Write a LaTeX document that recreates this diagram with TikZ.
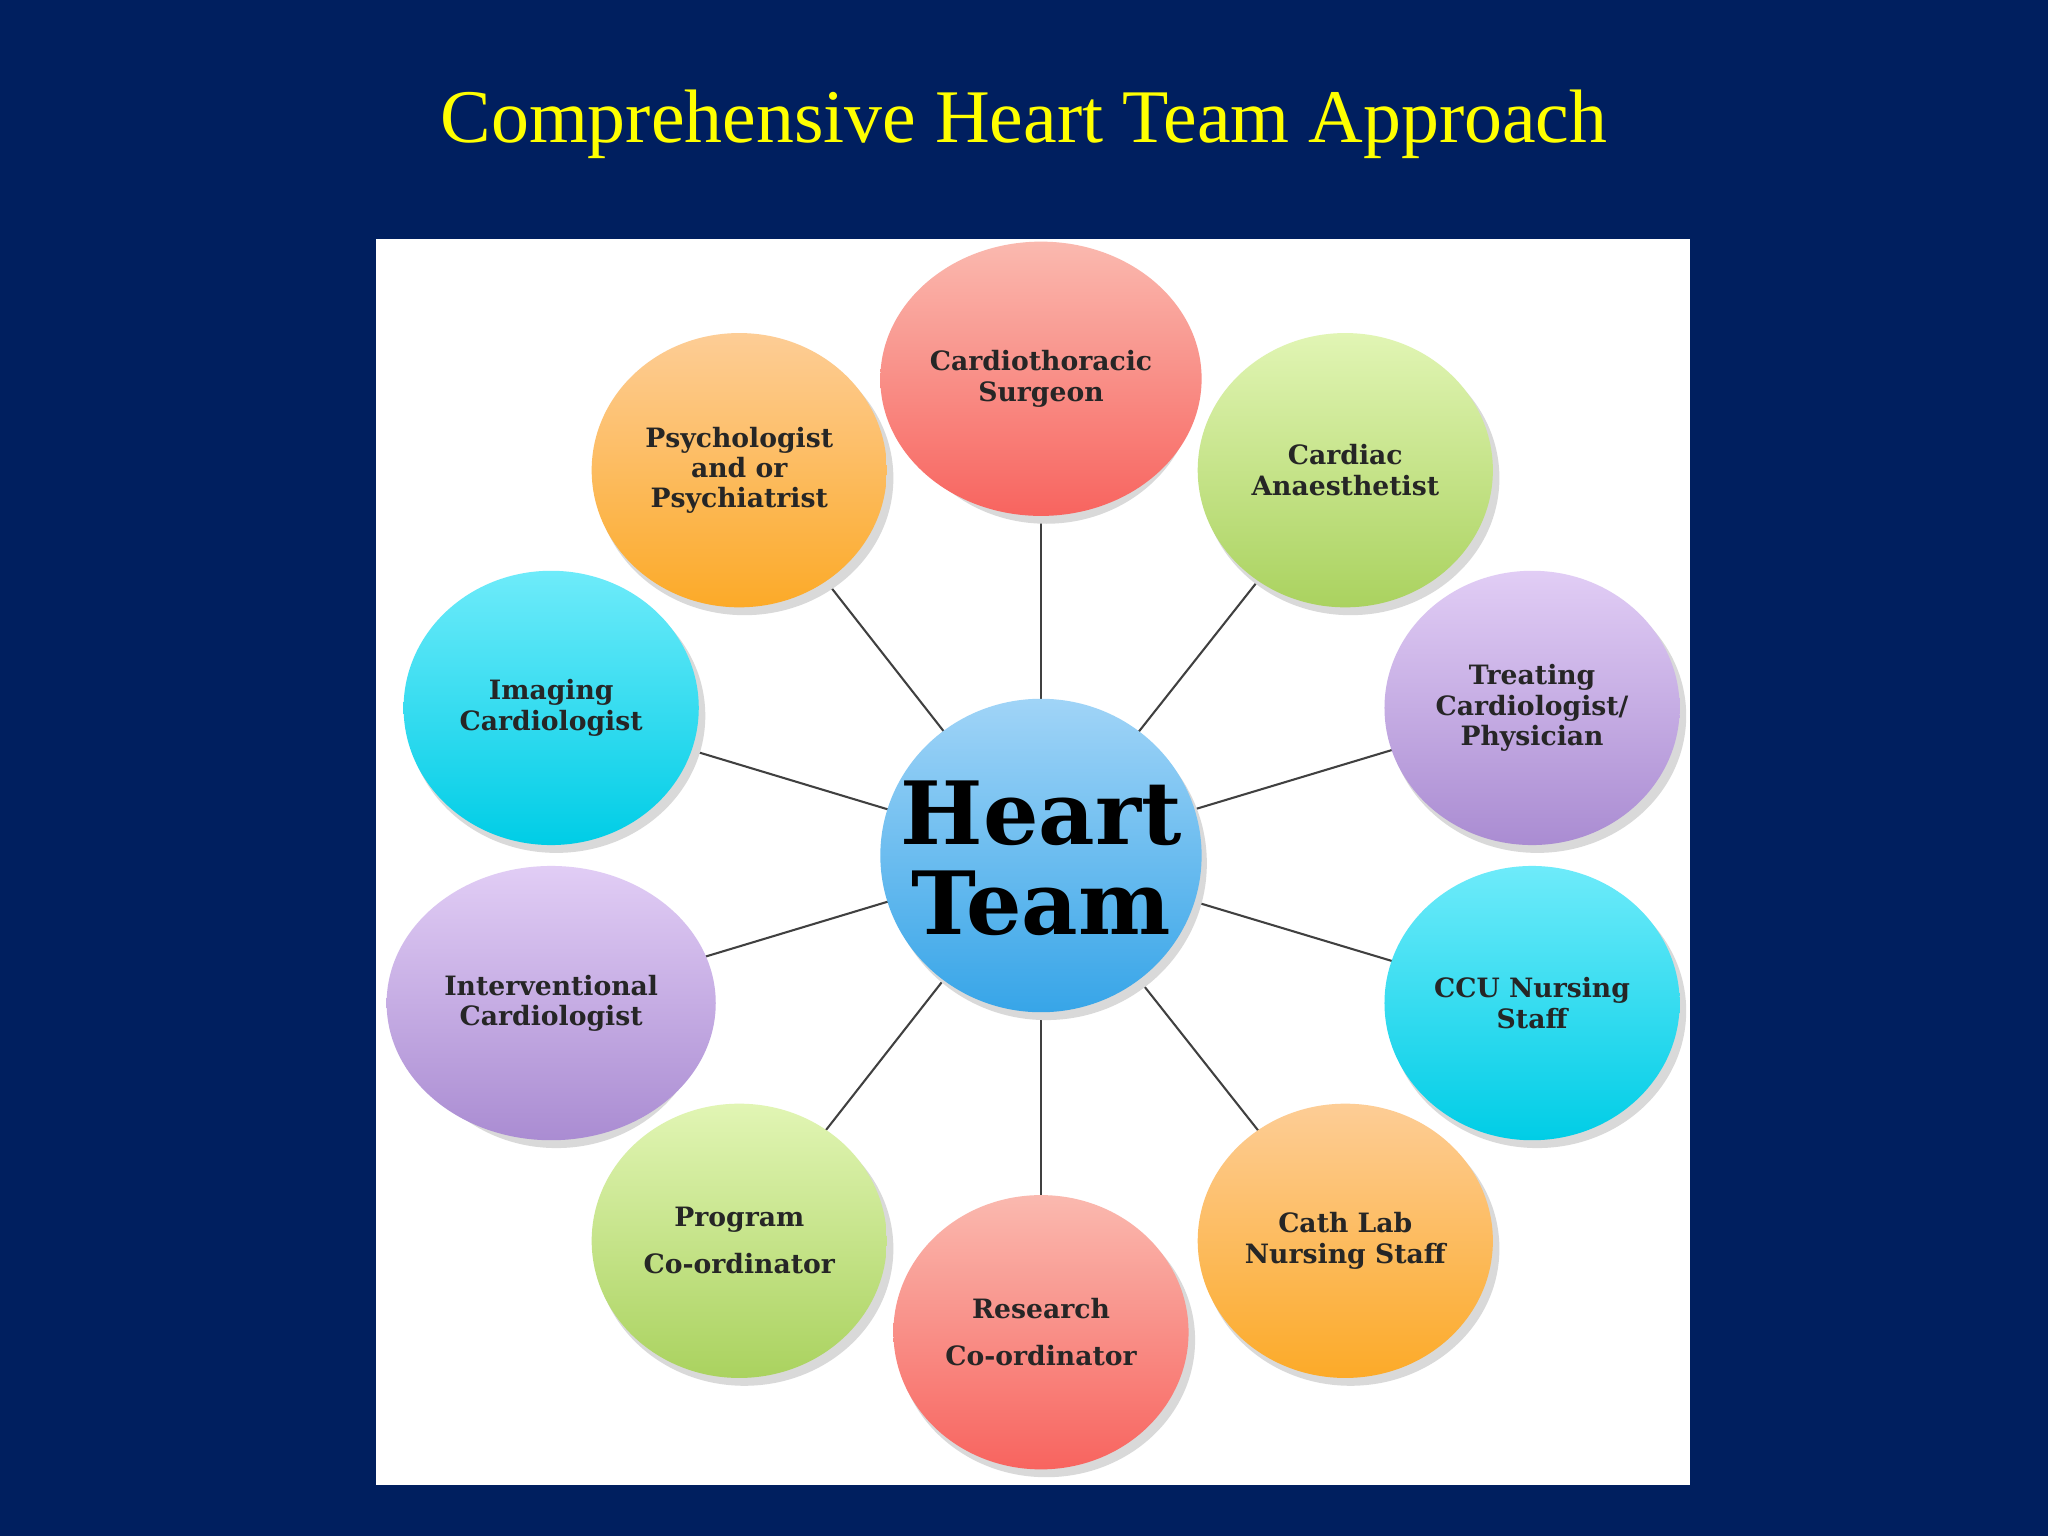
\documentclass[tikz,border=0pt]{standalone}
\usepackage{fontspec}
\setmainfont{Liberation Serif}
\newfontfamily\nodefont{DejaVu Serif}
\usetikzlibrary{shadings,shapes.geometric}
\definecolor{navy}{RGB}{0,31,95}
\definecolor{titley}{RGB}{255,255,0}
\tikzset{
 member/.style={align=center,font=\nodefont\bfseries\fontsize{5.8pt}{6.6pt}\selectfont,text=black!85},
 spoke/.style={draw=black!75,line width=0.45pt},
 redc/.style={top color={rgb,255:red,250;green,185;blue,175},bottom color={rgb,255:red,248;green,100;blue,95}},
 greenc/.style={top color={rgb,255:red,225;green,245;blue,180},bottom color={rgb,255:red,170;green,210;blue,95}},
 purplec/.style={top color={rgb,255:red,225;green,205;blue,245},bottom color={rgb,255:red,170;green,140;blue,210}},
 cyanc/.style={top color={rgb,255:red,110;green,235;blue,250},bottom color={rgb,255:red,0;green,205;blue,230}},
 orangec/.style={top color={rgb,255:red,253;green,205;blue,150},bottom color={rgb,255:red,252;green,170;blue,40}},
}
\begin{document}
\begin{tikzpicture}[x=0.01cm,y=-0.01cm]
\fill[navy] (0,0) rectangle (1568,1176);
\useasboundingbox (0,0) rectangle (1568,1176);
\node[text=titley,font=\fontsize{16.5pt}{18pt}\selectfont] (title) at (784,95) {Comprehensive Heart Team Approach};
\fill[white] (288,183) rectangle (1294,1137);
\coordinate (c) at (797,655);
\foreach \n/\x/\y in {s1/797/290,s2/1030/360,s3/1173/542,s4/1173/768,s5/1030/950,s6/797/1020,s7/566/950,s8/422/768,s9/422/542,s10/566/360}{
 \coordinate (\n) at (\x,\y);
 \draw[spoke] (c) -- (\n);
 \fill[black!15] (\x+4,\y+6) ellipse (114 and 105);
}
\fill[black!15] (801,661) ellipse (123 and 120);
\newcommand{\memb}[6]{\path[#4] (#2,#3) ellipse (#5 and 105);
 \node[member] (#1) at (#2,#3) {#6};}
\memb{surg}{797}{290}{redc}{123}{Cardiothoracic\\Surgeon}
\memb{anae}{1030}{360}{greenc}{113}{Cardiac\\Anaesthetist}
\memb{treat}{1173}{542}{purplec}{113}{Treating\\Cardiologist/\\Physician}
\memb{ccu}{1173}{768}{cyanc}{113}{CCU Nursing\\Staff}
\memb{cath}{1030}{950}{orangec}{113}{Cath Lab\\Nursing Staff}
\memb{res}{797}{1020}{redc}{113}{Research\\[1.2ex]Co-ordinator}
\memb{prog}{566}{950}{greenc}{113}{Program\\[1.2ex]Co-ordinator}
\memb{interv}{422}{768}{purplec}{126}{Interventional\\Cardiologist}
\memb{imag}{422}{542}{cyanc}{113}{Imaging\\Cardiologist}
\memb{psy}{566}{360}{orangec}{113}{Psychologist\\and or\\Psychiatrist}
\path[top color={rgb,255:red,160;green,212;blue,247},bottom color={rgb,255:red,55;green,165;blue,232}] (797,655) ellipse (123 and 120);
\node[align=center,font=\nodefont\bfseries\fontsize{19pt}{19.5pt}\selectfont] (heart) at (797,657) {Heart\\Team};
\end{tikzpicture}
\end{document}
